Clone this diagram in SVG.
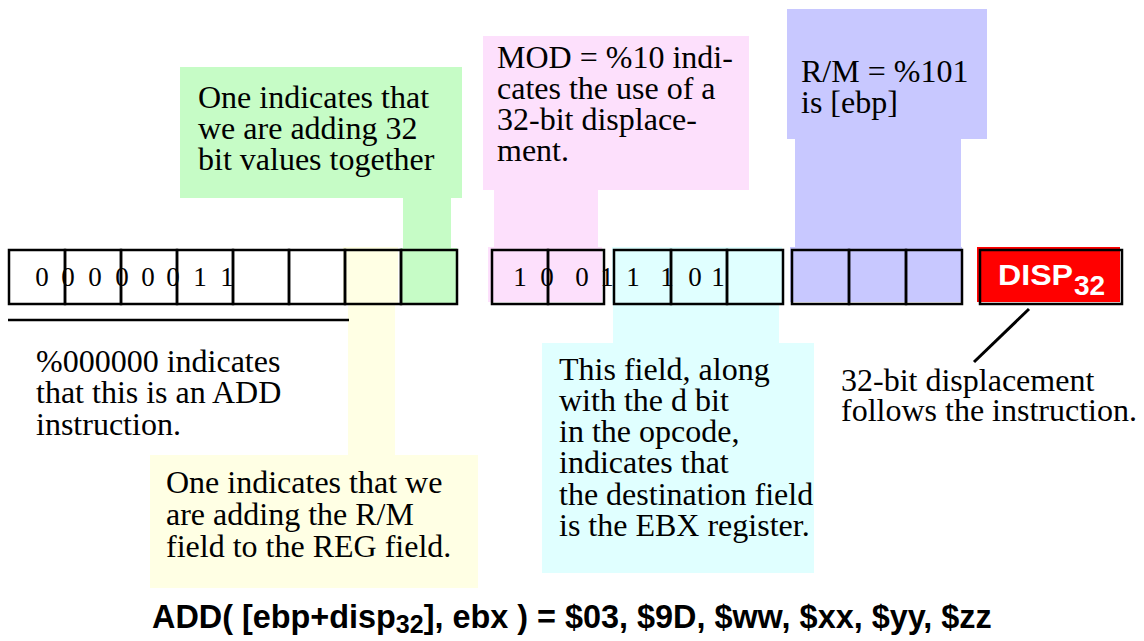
<svg xmlns="http://www.w3.org/2000/svg" width="1144" height="641" viewBox="0 0 1144 641">
<style>
.t{font-family:"Liberation Serif","Times New Roman",serif;font-size:32px;fill:#000}
.d{font-family:"Liberation Serif","Times New Roman",serif;font-size:27px;fill:#000;text-anchor:middle}
.cell{fill:none;stroke:#000;stroke-width:2.5}
.s{font-family:"Liberation Sans",Arial,sans-serif;font-weight:bold}
.green{fill:#c6fcc6}.pink{fill:#fde0fc}.purple{fill:#c8c8ff}.cyan{fill:#e0ffff}.yellow{fill:#ffffe4}
.conn{stroke:#000;fill:none}
</style>
<rect width="1144" height="641" fill="#fff"/>
<g id="note-green">
<rect class="green" x="180" y="67" width="282" height="131"/>
<rect class="green" x="403" y="198" width="48" height="52"/>
<rect class="green" x="401" y="248" width="56" height="55"/>
<text class="t" x="198" y="108">One indicates that</text>
<text class="t" x="198" y="139">we are adding 32</text>
<text class="t" x="198" y="170">bit values together</text>
</g>
<g id="note-pink">
<rect class="pink" x="483" y="36" width="266" height="154"/>
<rect class="pink" x="494" y="190" width="104" height="58"/>
<rect class="pink" x="488" y="247" width="114" height="55"/>
<text class="t" x="497" y="68">MOD = %10 indi-</text>
<text class="t" x="497" y="99">cates the use of a</text>
<text class="t" x="497" y="130">32-bit displace-</text>
<text class="t" x="497" y="161">ment.</text>
</g>
<g id="note-purple">
<rect class="purple" x="787" y="9" width="200" height="130"/>
<rect class="purple" x="795" y="139" width="166" height="110"/>
<rect class="purple" x="790" y="247" width="172" height="55"/>
<text class="t" x="801" y="82">R/M = %101</text>
<text class="t" x="801" y="113">is [ebp]</text>
</g>
<g id="note-cyan">
<rect class="cyan" x="612" y="247" width="170" height="56"/>
<rect class="cyan" x="613" y="300" width="166" height="44"/>
<rect class="cyan" x="542" y="343" width="272" height="230"/>
<text class="t" x="559" y="380">This field, along</text>
<text class="t" x="559" y="411">with the d bit</text>
<text class="t" x="559" y="442">in the opcode,</text>
<text class="t" x="559" y="473">indicates that</text>
<text class="t" x="559" y="505">the destination field</text>
<text class="t" x="559" y="536">is the EBX register.</text>
</g>
<g id="note-yellow">
<rect class="yellow" x="343" y="247" width="55" height="56"/>
<rect class="yellow" x="348" y="300" width="47" height="156"/>
<rect class="yellow" x="150" y="455" width="328" height="133"/>
<text class="t" x="166" y="493">One indicates that we</text>
<text class="t" x="166" y="525">are adding the R/M</text>
<text class="t" x="166" y="557">field to the REG field.</text>
</g>
<g id="opcode-byte">
<rect class="cell" x="9" y="250" width="56" height="54"/>
<rect class="cell" x="65" y="250" width="56" height="54"/>
<rect class="cell" x="121" y="250" width="56" height="54"/>
<rect class="cell" x="177" y="250" width="56" height="54"/>
<rect class="cell" x="233" y="250" width="56" height="54"/>
<rect class="cell" x="289" y="250" width="56" height="54"/>
<rect class="cell" x="345" y="250" width="56" height="54"/>
<rect class="cell" x="401" y="250" width="56" height="54"/>
<text class="d" x="42" y="286">0</text>
<text class="d" x="68" y="286">0</text>
<text class="d" x="95" y="286">0</text>
<text class="d" x="122" y="286">0</text>
<text class="d" x="148" y="286">0</text>
<text class="d" x="173" y="286">0</text>
<text class="d" x="200" y="286">1</text>
<text class="d" x="227" y="286">1</text>
</g>
<g id="modrm-byte">
<rect class="cell" x="492" y="250" width="56" height="54"/>
<rect class="cell" x="548" y="250" width="56" height="54"/>
<rect class="cell" x="614" y="250" width="57" height="54"/>
<rect class="cell" x="671" y="250" width="56" height="54"/>
<rect class="cell" x="727" y="250" width="56" height="54"/>
<rect class="cell" x="792" y="250" width="57" height="54"/>
<rect class="cell" x="849" y="250" width="57" height="54"/>
<rect class="cell" x="906" y="250" width="56" height="54"/>
<text class="d" x="520" y="286">1</text>
<text class="d" x="547" y="286">0</text>
<text class="d" x="582" y="286">0</text>
<text class="d" x="607" y="286">1</text>
<text class="d" x="633" y="286">1</text>
<text class="d" x="667" y="286">1</text>
<text class="d" x="695" y="286">0</text>
<text class="d" x="718" y="286">1</text>
</g>
<g id="disp32">
<rect x="977" y="247" width="143" height="55" fill="#ff0000"/>
<rect class="cell" x="980" y="250" width="142" height="54"/>
<text class="s" x="998" y="285" font-size="29" fill="#fff" textLength="75" lengthAdjust="spacingAndGlyphs">DISP</text>
<text class="s" x="1074" y="295" font-size="28" fill="#fff">32</text>
</g>
<g id="note-opcode">
<text class="t" x="36" y="372">%000000 indicates</text>
<text class="t" x="36" y="403">that this is an ADD</text>
<text class="t" x="36" y="435">instruction.</text>
</g>
<g id="note-disp">
<text class="t" x="841" y="391">32-bit displacement</text>
<text class="t" x="841" y="421">follows the instruction.</text>
</g>
<g id="connectors">
<line class="conn" x1="8" y1="320" x2="349" y2="320" stroke-width="2.5"/>
<line class="conn" x1="1029" y1="309" x2="974" y2="362" stroke-width="3"/>
</g>
<g id="caption">
<text class="s" x="152" y="628" font-size="32.4">ADD( [ebp+disp<tspan font-size="25" dy="5">32</tspan><tspan dy="-5">], ebx ) = $03, $9D, $ww, $xx, $yy, $zz</tspan></text>
</g>
</svg>
